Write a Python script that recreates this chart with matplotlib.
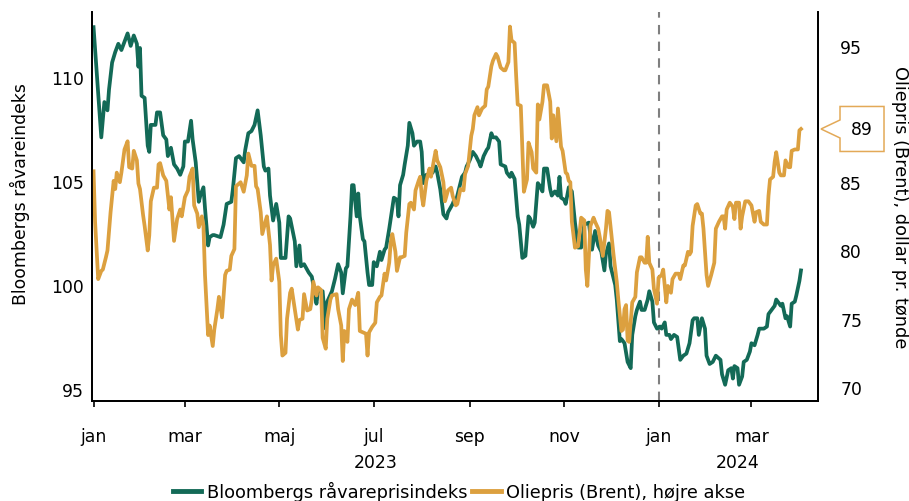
import pandas as pd
import matplotlib.pyplot as plt
import matplotlib.dates as mdates
from matplotlib.patches import Polygon
from matplotlib.transforms import IdentityTransform

plt.rcParams['font.family'] = ['DejaVu Sans']

# Bloomberg commodity index (left axis), days counted from 1 Jan 2023
bcom_days = [0, 5, 7, 9, 10, 12, 14, 16, 18, 20, 22, 24, 26, 28, 29, 30, 31, 33, 35, 36,
             37, 40, 41, 43, 45, 47, 48, 50, 52, 54, 56, 58, 59, 61, 63, 64, 66, 68, 69, 71,
             72, 74, 75, 77, 78, 82, 84, 86, 89, 90, 92, 94, 97, 98, 100, 102, 104, 106, 108, 110,
             111, 113, 114, 116, 118, 120, 121, 124, 126, 127, 130, 131, 133, 134, 136, 139, 141, 142, 144, 145,
             148, 150, 151, 154, 156, 158, 160, 161, 163, 164, 166, 167, 168, 170, 171, 172, 174, 175, 177, 178,
             180, 181, 183, 185, 186, 188, 189, 191, 192, 194, 196, 197, 198, 200, 201, 203, 204, 206, 207, 209,
             211, 212, 213, 215, 217, 219, 221, 222, 224, 226, 228, 229, 232, 233, 234, 236, 238, 240, 241, 243,
             245, 247, 249, 250, 252, 254, 255, 257, 258, 260, 262, 263, 266, 267, 269, 270, 272, 274, 275, 277,
             279, 281, 282, 284, 285, 287, 288, 290, 291, 293, 295, 296, 298, 300, 301, 302, 304, 305, 307, 309,
             311, 313, 315, 317, 320, 322, 324, 326, 328, 330, 331, 333, 334, 337, 338, 340, 341, 343, 345, 347,
             348, 350, 351, 353, 354, 356, 358, 359, 361, 362, 364, 366, 367, 369, 370, 372, 373, 375, 377, 379,
             381, 383, 385, 387, 388, 390, 391, 393, 395, 396, 398, 400, 402, 405, 406, 408, 410, 412, 413, 414,
             416, 417, 419, 420, 422, 424, 425, 427, 429, 430, 433, 435, 436, 438, 440, 441, 442, 444, 445, 447,
             448, 450, 451, 453, 454, 456, 457]
bcom = [112.4, 107.1, 108.8, 108.4, 109.4, 110.7, 111.2, 111.6, 111.3, 111.7, 112.1, 111.5, 112.0, 111.6, 110.5, 111.4, 109.1, 109.0, 106.7, 106.4,
        107.7, 107.7, 108.3, 108.3, 107.2, 107.0, 106.2, 106.6, 105.8, 105.6, 105.3, 105.7, 106.9, 106.9, 107.9, 107.0, 105.9, 104.0, 104.3, 104.7,
        103.7, 101.9, 102.3, 102.4, 102.4, 102.3, 102.9, 103.9, 104.0, 104.6, 106.1, 106.2, 105.9, 106.5, 107.3, 107.4, 107.7, 108.4, 107.2, 105.7,
        105.5, 105.6, 104.3, 103.1, 103.9, 103.0, 101.3, 101.3, 103.3, 103.2, 102.1, 100.9, 101.9, 100.9, 101.0, 100.6, 100.4, 100.0, 99.1, 99.7,
        99.7, 97.9, 99.2, 99.7, 100.3, 101.0, 100.6, 99.6, 100.8, 100.9, 103.3, 104.8, 104.8, 103.3, 104.4, 103.3, 102.2, 102.1, 100.6, 100.0,
        100.0, 101.1, 100.9, 101.6, 101.2, 101.7, 101.8, 102.7, 103.2, 104.2, 104.1, 103.3, 104.8, 105.3, 105.8, 106.7, 107.8, 107.3, 106.7, 106.9,
        106.9, 106.4, 104.9, 105.3, 105.3, 105.4, 105.7, 105.4, 104.6, 103.4, 103.2, 103.5, 103.9, 104.1, 104.0, 104.6, 105.2, 105.4, 105.7, 106.0,
        106.4, 106.2, 105.9, 105.7, 106.2, 106.5, 106.6, 107.3, 107.1, 107.1, 106.9, 105.8, 105.7, 105.4, 105.2, 105.4, 105.1, 103.3, 102.9, 101.3,
        101.4, 103.3, 103.2, 102.8, 103.0, 104.9, 104.8, 104.5, 105.6, 105.6, 104.6, 104.3, 104.5, 104.3, 105.2, 104.2, 104.1, 103.9, 104.7, 104.5,
        103.0, 101.8, 101.8, 102.9, 103.0, 101.7, 102.6, 101.9, 101.6, 100.7, 101.5, 102.0, 100.9, 100.0, 99.3, 97.3, 97.4, 97.2, 96.3, 96.0,
        97.6, 98.5, 98.8, 99.2, 98.8, 98.8, 99.3, 99.7, 99.2, 98.2, 97.9, 98.0, 97.9, 98.2, 97.6, 97.6, 97.4, 97.6, 97.5, 96.4,
        96.6, 96.7, 97.2, 98.3, 98.4, 98.4, 97.6, 98.4, 97.9, 96.6, 96.2, 96.3, 96.6, 96.4, 95.7, 95.2, 95.9, 96.0, 95.5, 96.1,
        96.0, 95.2, 95.6, 96.3, 96.4, 96.8, 97.2, 97.1, 97.6, 97.9, 97.9, 98.0, 98.6, 98.8, 99.0, 99.3, 99.2, 99.0, 99.1, 98.4,
        98.5, 98.0, 99.1, 99.2, 99.5, 100.2, 100.7]

# Brent oil price, USD per barrel (right axis)
brent_days = [0, 1, 3, 5, 6, 8, 9, 11, 13, 14, 15, 17, 18, 20, 22, 23, 25, 26, 28, 29,
              30, 32, 33, 35, 36, 37, 39, 41, 42, 43, 45, 47, 49, 50, 52, 54, 56, 57, 59, 61,
              62, 64, 65, 67, 68, 70, 71, 72, 74, 75, 77, 78, 80, 81, 83, 85, 86, 88, 89, 91,
              92, 94, 95, 97, 99, 100, 102, 104, 105, 106, 108, 109, 111, 112, 114, 115, 116, 118, 120, 121,
              122, 124, 125, 127, 128, 130, 132, 133, 135, 136, 138, 140, 141, 142, 144, 145, 147, 148, 150, 151,
              153, 154, 157, 158, 160, 161, 162, 164, 165, 167, 169, 171, 172, 174, 176, 177, 178, 180, 182, 183,
              185, 186, 188, 189, 191, 192, 193, 195, 196, 198, 199, 201, 202, 204, 205, 207, 208, 210, 211, 212,
              213, 215, 217, 218, 220, 221, 222, 224, 226, 227, 229, 231, 232, 234, 235, 237, 239, 240, 242, 244,
              245, 246, 248, 249, 251, 253, 254, 255, 257, 258, 260, 261, 263, 265, 266, 268, 269, 270, 272, 273,
              274, 276, 277, 278, 280, 281, 283, 284, 286, 287, 288, 290, 291, 293, 295, 296, 297, 299, 300, 302,
              303, 305, 306, 307, 308, 309, 311, 313, 315, 317, 318, 319, 321, 323, 324, 326, 327, 329, 331, 332,
              333, 336, 338, 339, 341, 342, 343, 344, 345, 346, 348, 350, 351, 353, 354, 356, 357, 358, 359, 361,
              362, 364, 365, 367, 368, 370, 371, 373, 374, 376, 378, 379, 381, 382, 384, 385, 386, 387, 389, 390,
              392, 393, 394, 396, 397, 399, 401, 402, 404, 406, 407, 408, 409, 411, 413, 414, 415, 417, 418, 419,
              421, 423, 425, 427, 428, 430, 431, 433, 435, 436, 437, 439, 440, 441, 443, 444, 446, 447, 449, 450,
              451, 453, 455, 456, 457]
brent = [85.8, 82.1, 77.9, 78.5, 78.6, 79.5, 80.0, 82.8, 85.1, 84.5, 85.7, 85.0, 85.7, 87.4, 88.0, 86.1, 86.0, 87.3, 86.6, 84.9,
         84.5, 82.6, 81.8, 80.0, 81.1, 83.6, 84.6, 84.6, 86.3, 86.4, 85.5, 85.1, 83.0, 83.9, 80.7, 82.3, 83.0, 82.5, 83.9, 84.4,
         85.4, 86.0, 83.3, 82.7, 81.7, 82.5, 81.8, 78.2, 73.8, 74.5, 73.0, 74.2, 75.7, 76.6, 75.1, 78.2, 78.5, 78.6, 79.6, 80.1,
         84.7, 84.9, 85.0, 84.3, 85.5, 87.1, 86.2, 86.2, 84.7, 84.5, 82.8, 81.2, 82.1, 82.5, 80.4, 77.8, 78.9, 79.4, 77.7, 73.8,
         72.3, 72.5, 75.0, 76.9, 77.2, 75.7, 74.2, 74.9, 75.0, 76.8, 75.6, 75.7, 76.4, 77.7, 76.7, 77.3, 77.1, 73.6, 72.8, 75.0,
         76.4, 76.7, 76.8, 75.7, 74.5, 71.9, 74.1, 73.3, 75.7, 76.4, 76.0, 76.9, 74.1, 74.0, 73.9, 72.3, 74.0, 74.4, 74.7, 76.2,
         76.6, 76.7, 78.3, 77.8, 79.1, 80.6, 81.2, 79.9, 78.5, 79.5, 79.5, 79.6, 81.3, 83.4, 83.5, 83.0, 84.4, 85.1, 85.4, 84.0,
         83.3, 85.1, 86.0, 85.4, 86.7, 87.3, 86.6, 86.1, 85.0, 83.6, 84.4, 84.6, 84.0, 83.3, 83.4, 84.5, 84.4, 85.6, 86.2, 88.4,
         88.9, 89.9, 90.5, 89.9, 90.4, 90.6, 91.8, 92.0, 93.5, 93.9, 94.4, 94.2, 93.4, 93.2, 93.2, 93.8, 96.4, 95.4, 95.2, 92.8,
         90.7, 90.6, 87.4, 84.3, 85.2, 87.9, 87.2, 86.0, 85.7, 90.7, 89.6, 90.9, 92.1, 92.1, 90.9, 88.2, 89.9, 88.0, 90.4, 87.6,
         87.3, 85.7, 85.6, 85.1, 85.0, 82.1, 80.2, 80.3, 82.4, 82.2, 78.6, 77.4, 81.8, 82.4, 82.1, 81.6, 81.0, 79.6, 81.6, 82.9,
         82.8, 79.6, 77.7, 76.4, 74.1, 74.2, 75.7, 76.0, 73.4, 73.3, 76.2, 76.6, 78.4, 79.5, 79.5, 79.1, 79.1, 81.0, 79.1, 78.6,
         77.2, 76.1, 78.0, 78.2, 78.6, 76.2, 77.4, 76.9, 77.9, 78.3, 78.3, 77.9, 78.9, 78.9, 79.9, 79.7, 79.9, 81.8, 83.3, 83.4,
         82.7, 82.7, 81.6, 78.2, 77.4, 78.2, 79.1, 81.6, 82.1, 82.5, 82.5, 81.6, 83.0, 83.5, 83.2, 82.3, 83.5, 83.5, 81.6, 82.5,
         83.6, 83.6, 83.3, 82.1, 82.8, 82.9, 82.1, 81.9, 81.9, 84.0, 85.2, 85.4, 86.5, 87.2, 85.7, 85.5, 85.5, 86.6, 86.1, 86.1,
         87.3, 87.4, 87.4, 88.8, 88.9]

month_ticks = ['2023-01-01', '2023-03-01', '2023-05-01', '2023-07-01', '2023-09-01',
               '2023-11-01', '2024-01-01', '2024-03-01']
month_labels = ['jan', 'mar', 'maj', 'jul', 'sep', 'nov', 'jan', 'mar']
year_labels = ['2023', '2024']
year_pos = ['2023-07-02', '2024-02-21']

green = '#136a57'
gold = '#dca03f'
fs = 12.8
tfs = 12.4

start = pd.Timestamp('2023-01-01')
bcom_dates = start + pd.to_timedelta(bcom_days, unit='D')
brent_dates = start + pd.to_timedelta(brent_days, unit='D')

fig = plt.figure(figsize=(9.09, 5.02), dpi=100)
ax = fig.add_axes([0.1012, 0.1992, 0.7987, 0.7749])
ax2 = ax.twinx()

l1, = ax.plot(bcom_dates, bcom, color=green, lw=2.7, label='Bloombergs råvareprisindeks')
l2, = ax2.plot(brent_dates, brent, color=gold, lw=2.7, label='Oliepris (Brent), højre akse')

ax.set_xlim(pd.Timestamp('2022-12-31'), pd.Timestamp('2024-04-13'))
ax.set_ylim(94.42, 113.13)
ax2.set_ylim(68.97, 97.47)
ax.set_yticks([95, 100, 105, 110])
# the 90 tick sits under the price callout
ax2.set_yticks([70, 75, 80, 85, 95])

# jan 2024 marker
ax.axvline(pd.Timestamp('2024-01-01'), color='#7f7f7f', lw=1.5, ls=(0, (4.5, 3.5)), zorder=0)

ax.set_xticks(pd.to_datetime(month_ticks))
ax.set_xticklabels(month_labels)
ax.set_xticks(pd.to_datetime(['2023-01-01', '2024-01-01']), minor=True)
ax.tick_params(axis='x', which='major', length=4, width=1.2, pad=15, labelsize=tfs)
ax.tick_params(axis='x', which='minor', length=12, width=1.2)
ax.tick_params(axis='y', length=0, pad=6, labelsize=tfs)
ax2.tick_params(axis='y', length=0, pad=16, labelsize=tfs)

for a in (ax, ax2):
    a.spines['top'].set_visible(False)
    for s in ('left', 'right', 'bottom'):
        a.spines[s].set_linewidth(1.3)

for lab, pos in zip(year_labels, year_pos):
    ax.annotate(lab, xy=(mdates.date2num(pd.Timestamp(pos)), 0), xycoords=ax.get_xaxis_transform(),
                xytext=(0, -44), textcoords='offset points', ha='center', va='center', fontsize=tfs)

ax.set_ylabel('Bloombergs råvareindeks', fontsize=12.4)
ax.yaxis.set_label_coords(-0.085, 0.535)
ax2.set_ylabel('Oliepris (Brent), dollar pr. tønde', fontsize=fs, rotation=270, va='center')
ax2.yaxis.set_label_coords(1.113, 0.5)

fig.legend(handles=[l1, l2], loc='center', bbox_to_anchor=(0.505, 0.02), ncol=2, frameon=False,
           fontsize=fs, handlelength=1.6, handletextpad=0.3, columnspacing=0.3)
for h in fig.legends[0].get_lines():
    h.set_linewidth(3.5)

# callout with the latest Brent price
fig.canvas.draw()
last = brent[-1]
ty = ax2.transData.transform((mdates.date2num(brent_dates[-1]), last))[1]
tx = ax2.transAxes.transform((1, 0))[0] + 3
bl, br, bh, notch = tx + 19, tx + 63, 22.5, 9
pts = [(tx, ty), (bl, ty + notch), (bl, ty + bh), (br, ty + bh), (br, ty - bh), (bl, ty - bh), (bl, ty - notch)]
fig.add_artist(Polygon(pts, closed=True, transform=IdentityTransform(), facecolor='white',
                       edgecolor='#e3a957', lw=1.1, zorder=5))
fig.text((bl + br) / 2 / fig.bbox.width, ty / fig.bbox.height, f'{last:.0f}', ha='center', va='center',
         fontsize=tfs, zorder=6)

fig.savefig('out.png', dpi=100)
